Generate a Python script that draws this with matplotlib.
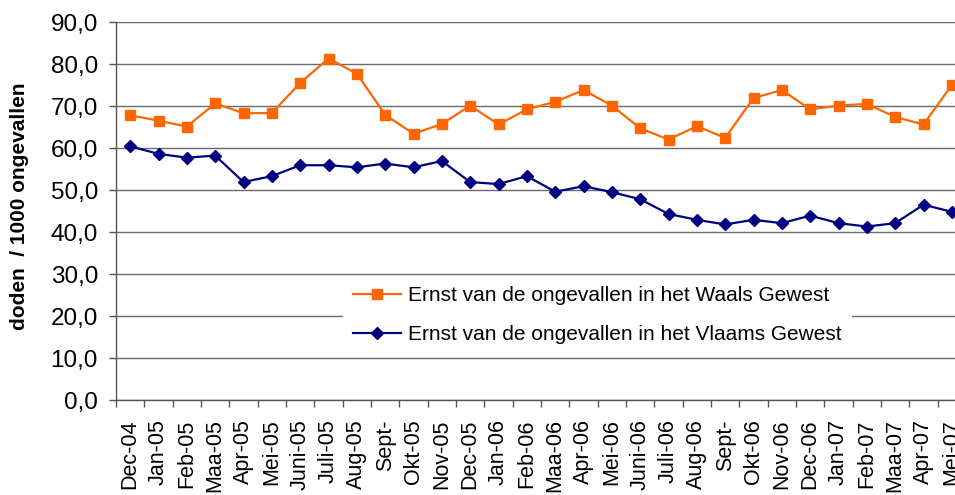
import matplotlib
matplotlib.use("Agg")
import matplotlib.pyplot as plt
from matplotlib.ticker import MultipleLocator, FixedLocator, FuncFormatter
import numpy as np

categories = ["Dec-04", "Jan-05", "Feb-05", "Maa-05", "Apr-05", "Mei-05", "Juni-05",
              "Juli-05", "Aug-05", "Sept-", "Okt-05", "Nov-05", "Dec-05", "Jan-06",
              "Feb-06", "Maa-06", "Apr-06", "Mei-06", "Juni-06", "Juli-06", "Aug-06",
              "Sept-", "Okt-06", "Nov-06", "Dec-06", "Jan-07", "Feb-07", "Maa-07",
              "Apr-07", "Mei-07"]

waals = [67.8, 66.5, 65.1, 70.6, 68.3, 68.3, 75.5, 81.3, 77.7, 67.9, 63.4, 65.7,
         70.1, 65.6, 69.2, 71.0, 73.8, 70.1, 64.7, 62.0, 65.2, 62.4, 71.9, 73.8,
         69.2, 70.1, 70.5, 67.4, 65.6, 75.0]

vlaams = [60.4, 58.6, 57.7, 58.2, 51.9, 53.3, 55.9, 55.9, 55.4, 56.3, 55.4, 56.9,
          51.9, 51.4, 53.3, 49.6, 50.9, 49.5, 47.8, 44.3, 42.9, 41.8, 42.9, 42.1,
          43.9, 42.1, 41.3, 42.1, 46.5, 44.8]

label_waals = "Ernst van de ongevallen in het Waals Gewest"
label_vlaams = "Ernst van de ongevallen in het Vlaams Gewest"
ylabel = "doden  / 1000 ongevallen"

plt.rcParams['font.family'] = ['Liberation Sans', 'DejaVu Sans']

W, H = 955, 495
fig = plt.figure(figsize=(W / 100, H / 100), dpi=100)
left, right, top, bottom = 116, 966, 22, 400
ax = fig.add_axes([left / W, 1 - bottom / H, (right - left) / W, (bottom - top) / H])

x = np.arange(len(categories))
ax.plot(x, waals, color="#FF6600", lw=1.6, marker="s", markersize=7.5,
        markerfacecolor="#FF6600", markeredgecolor="#FF6600", label=label_waals,
        clip_on=False, zorder=3)
ax.plot(x, vlaams, color="#000080", lw=1.6, marker="D", markersize=6.5,
        markerfacecolor="#000080", markeredgecolor="#000080", label=label_vlaams,
        clip_on=False, zorder=3)

ax.set_xlim(-0.5, len(categories) - 0.5)
ax.set_ylim(0, 90)
ax.yaxis.set_major_locator(MultipleLocator(10))
ax.yaxis.set_major_formatter(FuncFormatter(lambda v, p: f"{v:.1f}".replace(".", ",")))
ax.grid(axis="y", color="#6a6a6a", lw=1.0, zorder=0)
ax.set_axisbelow(True)

ax.set_xticks(x)
ax.set_xticklabels(categories, rotation=90, ha="center", va="top")
ax.xaxis.set_minor_locator(FixedLocator(np.arange(-0.5, len(categories), 1.0)))
ax.tick_params(axis="x", which="major", length=0, pad=14, labelsize=15.5)
ax.tick_params(axis="x", which="minor", length=5, width=1.0, color="#555555", direction="out")
ax.tick_params(axis="y", which="major", length=5, width=1.0, color="#555555", pad=8, labelsize=17.5)

for s in ["top", "right"]:
    ax.spines[s].set_visible(False)
for s in ["left", "bottom"]:
    ax.spines[s].set_color("#555555")
    ax.spines[s].set_linewidth(1.0)

fig.text(20 / W, 1 - 206 / H, ylabel, rotation=90, ha="center", va="center",
         fontsize=15, fontweight="bold")

leg = ax.legend(loc="upper left", bbox_to_anchor=(343 / W, 1 - 276 / H),
                bbox_transform=fig.transFigure, fontsize=15, frameon=True,
                fancybox=False, edgecolor="none", facecolor="white", framealpha=1,
                handlelength=2.3, borderpad=0.5, labelspacing=0.95, handletextpad=0.3,
                borderaxespad=0)
leg.set_zorder(5)

fig.savefig("out.png", dpi=100)
